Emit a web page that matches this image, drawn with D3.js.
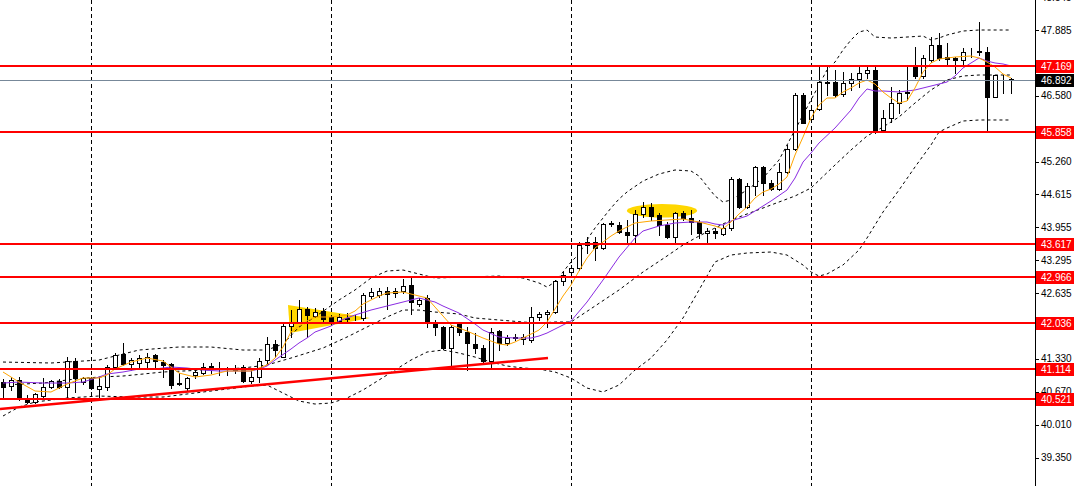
<!DOCTYPE html>
<html>
<head>
<meta charset="utf-8">
<script src="https://cdnjs.cloudflare.com/ajax/libs/d3/7.8.5/d3.min.js"></script>
<style>
  body { margin: 0; background: #fff; }
  svg { display: block; }
</style>
</head>
<body>
<div id="chart"></div>
<script>
// candles, oldest first
let opens = [40.862,40.782,40.902,40.543,40.463,40.583,40.762,40.882,40.762,41.281,
  40.862,40.942,40.722,40.762,41.162,41.421,41.222,41.242,41.261,41.401,
  41.261,41.222,40.842,40.742,41.002,41.042,41.182,41.142,41.122,41.122,
  41.162,40.882,40.962,41.301,41.621,41.361,41.980,42.060,42.319,42.180,
  42.279,42.160,42.080,42.140,42.140,42.140,42.579,42.599,42.679,42.639,
  42.679,42.799,42.419,42.539,42.060,41.960,41.541,42.020,41.860,41.621,
  41.541,41.281,41.880,41.641,41.760,41.720,41.701,42.160,42.220,42.259,
  42.879,43.058,43.138,43.597,43.657,43.537,44.036,43.996,43.856,43.796,
  44.215,44.355,44.196,43.996,43.756,44.235,44.136,44.056,43.836,43.876,
  43.816,43.936,44.914,44.355,44.774,45.154,44.834,44.714,45.054,45.513,
  46.591,46.112,46.311,46.850,46.850,46.611,46.830,46.910,47.030,47.090,
  45.892,46.132,46.431,46.631,47.150,46.970,47.289,47.589,47.349,47.329,
  47.289,47.469,47.469,47.449,46.551,46.930,46.910];
let highs = [40.922,40.962,40.962,40.603,40.643,40.942,40.902,40.922,41.361,41.341,
  40.962,40.962,40.962,41.202,41.441,41.641,41.341,41.401,41.441,41.421,
  41.301,41.242,41.042,40.962,41.142,41.242,41.242,41.261,41.162,41.202,
  41.202,41.102,41.341,41.760,41.701,42.040,42.299,42.499,42.359,42.339,
  42.339,42.200,42.220,42.239,42.200,42.639,42.739,42.739,42.759,42.739,
  42.918,42.938,42.539,42.599,42.100,41.980,42.000,42.040,41.960,41.840,
  41.601,41.940,41.900,41.800,41.820,41.820,42.359,42.259,42.299,42.898,
  43.058,43.198,43.657,43.756,43.756,44.036,44.076,44.056,44.096,44.295,
  44.455,44.435,44.235,44.056,44.255,44.275,44.295,44.096,43.936,43.936,
  43.996,44.954,44.934,44.834,45.174,45.174,44.894,45.233,45.593,46.631,
  46.631,46.331,47.170,47.170,47.090,47.050,47.030,47.150,47.150,47.190,
  46.291,46.750,46.691,47.190,47.549,47.389,47.748,47.828,47.629,47.349,
  47.529,47.529,48.048,47.549,46.990,46.990,46.930];
let lows = [40.543,40.703,40.503,40.443,40.443,40.563,40.742,40.742,40.543,40.663,
  40.822,40.722,40.543,40.703,41.142,41.202,41.102,41.162,41.142,41.162,
  40.962,40.742,40.802,40.703,40.942,41.022,41.042,41.002,41.002,41.042,
  40.862,40.842,40.862,41.222,41.361,41.361,41.760,42.040,41.760,42.160,
  42.060,42.040,42.040,42.060,42.100,42.100,42.539,42.559,42.319,42.559,
  42.639,42.220,42.379,41.960,41.800,41.521,41.142,41.800,41.102,41.441,
  41.261,41.162,41.501,41.601,41.701,41.621,41.661,42.100,41.960,42.239,
  42.799,42.958,43.098,43.437,43.297,43.517,43.976,43.836,43.637,43.637,
  44.156,44.096,43.796,43.736,43.637,44.096,43.816,43.736,43.657,43.736,
  43.796,43.896,44.335,44.335,44.595,44.595,44.694,44.694,45.034,45.493,
  46.032,46.092,46.291,46.591,46.551,46.571,46.691,46.750,46.930,45.832,
  45.852,46.052,46.231,46.491,46.930,46.930,47.249,47.289,47.190,47.030,
  47.190,47.349,47.389,45.892,46.551,46.631,46.631];
let closes = [40.762,40.902,40.543,40.463,40.623,40.762,40.882,40.762,41.281,40.942,
  40.942,40.742,40.782,41.162,41.401,41.222,41.301,41.341,41.361,41.281,
  41.202,40.802,40.822,40.942,41.062,41.162,41.162,41.142,41.122,41.102,
  40.882,40.962,41.281,41.621,41.501,41.980,42.060,42.319,42.200,42.259,
  42.120,42.080,42.160,42.120,42.140,42.599,42.659,42.679,42.619,42.679,
  42.779,42.459,42.499,42.060,41.960,41.541,41.960,41.860,41.641,41.541,
  41.281,41.860,41.641,41.740,41.740,41.760,42.160,42.220,42.259,42.879,
  42.998,43.138,43.597,43.657,43.537,44.016,44.016,43.856,43.796,44.215,
  44.355,44.176,43.996,43.756,44.235,44.136,44.056,43.836,43.876,43.836,
  43.936,44.914,44.355,44.774,45.154,44.834,44.714,45.054,45.513,46.591,
  46.032,46.291,46.850,46.830,46.591,46.830,46.910,47.030,47.090,45.892,
  46.132,46.431,46.631,46.651,46.970,47.329,47.589,47.329,47.309,47.289,
  47.449,47.469,47.449,46.551,46.990,46.930,46.892];

// indicator lines: [bar index, price]
let maFast = [[0,41.062],[2,40.862],[4,40.683],[6,40.663],[8,40.822],[10,40.942],[12,40.942],[13,41.002],
  [14,41.122],[16,41.261],[18,41.341],[20,41.281],[22,41.042],[24,40.962],[26,41.002],[28,41.082],
  [31,41.082],[33,41.202],[34,41.341],[35,41.561],[36,41.860],[37,41.980],[38,42.080],[39,42.160],
  [41,42.160],[43,42.200],[44,42.279],[45,42.419],[46,42.499],[47,42.579],[48,42.639],[50,42.659],
  [51,42.619],[52,42.579],[53,42.539],[54,42.359],[55,42.180],[56,42.000],[57,41.940],[58,41.880],
  [60,41.740],[62,41.621],[63,41.601],[64,41.661],[65,41.740],[66,41.820],[67,41.900],[68,42.060],
  [69,42.319],[70,42.579],[71,42.799],[72,43.078],[73,43.337],[74,43.537],[75,43.657],[76,43.776],
  [77,43.876],[79,44.036],[81,44.076],[83,44.096],[85,44.116],[87,44.056],[89,43.976],[90,43.916],
  [91,44.056],[92,44.215],[93,44.355],[94,44.535],[95,44.655],[96,44.714],[97,44.814],[98,44.954],
  [99,45.393],[100,45.752],[101,46.132],[102,46.391],[103,46.531],[104,46.531],[105,46.651],[106,46.731],
  [107,46.830],[108,46.890],[109,46.810],[110,46.651],[111,46.531],[112,46.431],[113,46.471],[114,46.731],
  [115,47.050],[116,47.230],[117,47.309],[119,47.349],[121,47.369],[122,47.329],[123,47.249],[124,47.150],
  [125,47.010],[126,46.930]];
let maSlow = [[0,40.842],[2,40.862],[5,40.842],[8,40.842],[10,40.862],[12,40.962],[13,41.022],[15,41.062],
  [17,41.122],[19,41.122],[21,41.162],[23,41.142],[25,41.102],[27,41.082],[31,41.082],[32,41.122],
  [33,41.182],[34,41.301],[36,41.521],[37,41.641],[38,41.740],[39,41.860],[41,41.980],[42,42.080],
  [44,42.200],[46,42.299],[48,42.379],[50,42.459],[51,42.499],[52,42.539],[54,42.459],[55,42.379],
  [57,42.239],[59,42.020],[60,41.900],[62,41.760],[64,41.740],[66,41.740],[67,41.780],[68,41.840],
  [69,41.920],[71,42.080],[73,42.459],[75,42.898],[77,43.357],[79,43.736],[80,43.876],[82,43.976],
  [84,44.036],[86,44.056],[88,44.056],[89,44.016],[90,43.996],[91,44.076],[93,44.176],[95,44.375],
  [96,44.475],[98,44.694],[99,44.934],[100,45.253],[101,45.433],[102,45.633],[104,45.932],[106,46.291],
  [107,46.531],[108,46.711],[109,46.671],[110,46.671],[112,46.651],[114,46.691],[116,46.770],[118,46.850],
  [119,46.970],[120,47.130],[122,47.329],[123,47.269],[124,47.230],[125,47.210],[126,47.170]];
let bandUpper = [[0,41.261],[6,41.242],[12,41.301],[17,41.501],[22,41.561],[26,41.561],[30,41.501],[33,41.501],
  [35,41.621],[37,41.960],[39,42.160],[42,42.499],[44,42.699],[46,42.938],[48,43.078],[50,43.098],
  [52,43.018],[54,42.938],[58,42.958],[62,42.978],[65,42.938],[67,42.839],[68,42.759],[69,42.859],
  [70,43.058],[71,43.258],[72,43.417],[73,43.697],[74,43.936],[75,44.136],[76,44.335],[77,44.515],
  [78,44.655],[80,44.874],[82,45.014],[84,45.094],[86,45.074],[87,44.974],[88,44.774],[89,44.575],
  [90,44.455],[91,44.495],[92,44.595],[93,44.694],[95,44.934],[97,45.293],[99,45.892],[100,46.192],
  [101,46.491],[102,46.790],[103,47.090],[104,47.249],[105,47.489],[106,47.689],[107,47.848],[108,47.888],
  [109,47.748],[111,47.728],[113,47.748],[115,47.768],[116,47.689],[117,47.728],[118,47.788],[120,47.868],
  [122,47.888],[126,47.888]];
let bandMiddle = [[0,40.802],[5,40.842],[9,40.922],[12,40.962],[15,40.982],[20,41.062],[25,41.102],[30,41.142],
  [33,41.202],[36,41.341],[40,41.541],[43,41.760],[46,42.000],[48,42.160],[50,42.299],[52,42.299],
  [54,42.259],[57,42.220],[59,42.140],[62,42.100],[65,42.060],[67,42.040],[69,42.060],[71,42.060],
  [74,42.379],[77,42.699],[80,43.058],[83,43.377],[85,43.597],[87,43.776],[89,43.936],[91,44.096],
  [95,44.335],[99,44.575],[101,44.734],[104,45.194],[106,45.493],[108,45.772],[110,45.952],[112,46.152],
  [114,46.431],[116,46.691],[118,46.890],[120,46.970],[122,46.990],[126,46.990]];
let bandLower = [[0,40.184],[2,40.363],[4,40.463],[8,40.543],[12,40.583],[16,40.563],[20,40.563],[24,40.643],
  [28,40.722],[31,40.782],[33,40.802],[35,40.643],[37,40.483],[39,40.423],[41,40.443],[43,40.543],
  [45,40.703],[47,40.902],[49,41.102],[51,41.301],[53,41.461],[55,41.501],[57,41.441],[59,41.361],
  [61,41.261],[63,41.182],[65,41.142],[67,41.122],[69,41.062],[71,40.942],[73,40.742],[75,40.663],
  [77,40.802],[79,41.102],[81,41.341],[83,41.701],[85,42.140],[87,42.699],[89,43.258],[91,43.397],
  [93,43.437],[96,43.457],[98,43.397],[100,43.198],[101,43.058],[102,42.978],[103,43.018],[105,43.198],
  [107,43.497],[108,43.736],[109,43.996],[110,44.255],[112,44.694],[114,45.154],[116,45.593],[117,45.852],
  [118,45.932],[120,46.072],[122,46.092],[126,46.092]];

let levels = [47.169, 45.858, 43.617, 42.966, 42.036, 41.114, 40.521];
let lastPrice = 46.892;
// scale labels that are not hidden under the level tags
let priceTicks = [48.545, 47.885, 46.580, 45.260, 44.615, 43.955,
  43.295, 42.635, 41.330, 40.670, 40.010, 39.350];
let gridBars = [11, 41, 71, 101];
let trendLine = [[-0.375, 40.323], [68.125, 41.341]];
let triangleZone = [[35.625, 42.399], [45.875, 42.140], [35.875, 41.840]];
let ellipseZone = [82.375, 44.28, 4.4, 0.135]; // bar, price, half width in bars, half height in price

const width = 1075;
const height = 486;
const plotRight = 1035;

let svg = d3.select('#chart')
    .append('svg')
    .attr('width', width)
    .attr('height', height);

let x = d3.scaleLinear().domain([0, 126]).range([3, 1011]);
let y = d3.scaleLinear().domain([48.487, 38.787]).range([0, height]);

let plot = svg.append('g');

// yellow zones sit behind the price
plot.append('path')
    .attr('d', d3.line().x(d => x(d[0])).y(d => y(d[1]))(triangleZone) + 'Z')
    .attr('fill', '#ffd700');
plot.append('ellipse')
    .attr('cx', x(ellipseZone[0]))
    .attr('cy', y(ellipseZone[1]))
    .attr('rx', x(ellipseZone[0] + ellipseZone[2]) - x(ellipseZone[0]))
    .attr('ry', y(ellipseZone[1] - ellipseZone[3]) - y(ellipseZone[1]))
    .attr('fill', '#ffd700');

// vertical grid
plot.selectAll('.grid')
    .data(gridBars)
    .enter()
    .append('line')
    .attr('x1', d => Math.round(x(d)) + 0.5)
    .attr('x2', d => Math.round(x(d)) + 0.5)
    .attr('y1', 0)
    .attr('y2', height)
    .attr('stroke', '#000')
    .attr('stroke-dasharray', '4,3');

let line = d3.line().x(d => x(d[0])).y(d => y(d[1]));

[bandUpper, bandMiddle, bandLower].forEach(band => {
    plot.append('path')
        .attr('d', line(band))
        .attr('fill', 'none')
        .attr('stroke', '#000')
        .attr('stroke-width', 1)
        .attr('stroke-dasharray', '3,3');
});

// candles
let bars = d3.range(opens.length);
let cg = plot.append('g').attr('shape-rendering', 'crispEdges');
cg.selectAll('.wick')
    .data(bars)
    .enter()
    .append('line')
    .attr('x1', i => Math.round(x(i)) + 0.5)
    .attr('x2', i => Math.round(x(i)) + 0.5)
    .attr('y1', i => Math.round(y(highs[i])))
    .attr('y2', i => Math.round(y(lows[i])) + 1)
    .attr('stroke', '#000');
cg.selectAll('.body')
    .data(bars)
    .enter()
    .append('rect')
    .attr('x', i => Math.round(x(i)) - 1.5)
    .attr('width', 4)
    .attr('y', i => Math.round(y(Math.max(opens[i], closes[i]))) + 0.5)
    .attr('height', i => Math.max(0, Math.round(y(Math.min(opens[i], closes[i]))) - Math.round(y(Math.max(opens[i], closes[i])))))
    .attr('fill', i => closes[i] < opens[i] ? '#000' : '#fff')
    .attr('stroke', '#000');

// moving averages
plot.append('path')
    .attr('d', line(maSlow))
    .attr('fill', 'none')
    .attr('stroke', '#8a2be2')
    .attr('stroke-width', 1);
plot.append('path')
    .attr('d', line(maFast))
    .attr('fill', 'none')
    .attr('stroke', '#ffa500')
    .attr('stroke-width', 1);

// current price
plot.append('line')
    .attr('x1', 0).attr('x2', plotRight)
    .attr('y1', Math.round(y(lastPrice)) + 0.5)
    .attr('y2', Math.round(y(lastPrice)) + 0.5)
    .attr('stroke', '#778899');

// horizontal levels and trend line
plot.selectAll('.level')
    .data(levels)
    .enter()
    .append('line')
    .attr('x1', 0).attr('x2', plotRight)
    .attr('y1', d => Math.round(y(d)))
    .attr('y2', d => Math.round(y(d)))
    .attr('stroke', '#ff0000')
    .attr('stroke-width', 2);
plot.append('path')
    .attr('d', line(trendLine))
    .attr('stroke', '#ff0000')
    .attr('stroke-width', 2.5)
    .attr('fill', 'none');

// right price axis
let axisG = svg.append('g');
axisG.append('rect')
    .attr('x', plotRight + 1).attr('y', 0)
    .attr('width', width - plotRight).attr('height', height)
    .attr('fill', '#fff');
axisG.append('line')
    .attr('x1', plotRight + 0.5).attr('x2', plotRight + 0.5)
    .attr('y1', 0).attr('y2', height)
    .attr('stroke', '#000');
axisG.selectAll('.tick')
    .data(priceTicks)
    .enter()
    .append('line')
    .attr('x1', plotRight).attr('x2', plotRight + 4)
    .attr('y1', d => Math.round(y(d)) + 0.5)
    .attr('y2', d => Math.round(y(d)) + 0.5)
    .attr('stroke', '#000');
axisG.selectAll('.ticklabel')
    .data(priceTicks)
    .enter()
    .append('text')
    .attr('x', plotRight + 6)
    .attr('y', d => y(d))
    .attr('dy', '0.36em')
    .attr('font-family', 'Liberation Sans, Arial, sans-serif')
    .attr('font-size', 10)
    .attr('fill', '#000')
    .text(d => d.toFixed(3));

function tag(value, bg) {
    let cy = Math.round(y(value));
    axisG.append('rect')
        .attr('x', plotRight + 1).attr('y', cy - 6)
        .attr('width', width - plotRight - 2).attr('height', 13)
        .attr('fill', bg);
    axisG.append('text')
        .attr('x', plotRight + 6)
        .attr('y', cy)
        .attr('dy', '0.36em')
        .attr('font-family', 'Liberation Sans, Arial, sans-serif')
        .attr('font-size', 10)
        .attr('fill', '#fff')
        .text(value.toFixed(3));
}
levels.forEach(v => tag(v, '#ff0000'));
tag(lastPrice, '#000');
</script>
</body>
</html>
